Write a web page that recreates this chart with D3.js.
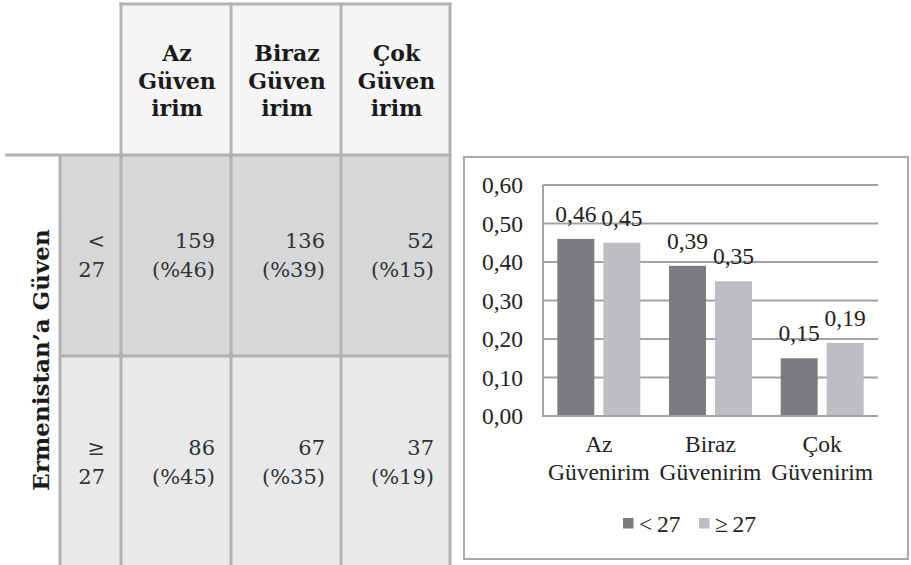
<!DOCTYPE html>
<html><head><meta charset="utf-8">
<script src="https://cdn.jsdelivr.net/npm/d3@7"></script>
<style>body{margin:0;background:#fff}svg{display:block}</style>
</head><body>
<svg id="c" width="911" height="565"></svg>
<script>
// ---- data ----
const categories = ["Az Güvenirim", "Biraz Güvenirim", "Çok Güvenirim"];
const headerLines = [["Az", "Güven", "irim"], ["Biraz", "Güven", "irim"], ["Çok", "Güven", "irim"]];
const groups = ["< 27", "≥ 27"];
const groupLines = [["<", "27"], ["≥", "27"]];
const rowTitle = "Ermenistan’a Güven";
const countsLt = [159, 136, 52];
const countsGe = [86, 67, 37];
const pctLt = [46, 39, 15];
const pctGe = [45, 35, 19];
const propLt = [0.46, 0.39, 0.15];
const propGe = [0.45, 0.35, 0.19];
const yTicks = [0, 0.1, 0.2, 0.3, 0.4, 0.5, 0.6];

const svg = d3.select("#c");
const fmt = v => d3.format(".2f")(v).replace(".", ",");

// ---- table ----
const tColX = [60, 121, 231, 341, 450];
const tTop = 4, tHead = 155, tMid = 356, tBot = 565;
const lineCol = "#b2b2b4";
const tbl = svg.append("g");
tbl.append("rect").attr("x", 121).attr("y", tTop).attr("width", 329).attr("height", tHead - tTop).attr("fill", "#f5f5f5");
tbl.append("rect").attr("x", 60).attr("y", tHead).attr("width", 390).attr("height", tMid - tHead).attr("fill", "#d6d7d9");
tbl.append("rect").attr("x", 60).attr("y", tMid).attr("width", 390).attr("height", tBot - tMid).attr("fill", "#e8e9eb");
const L = (x1, y1, x2, y2) => tbl.append("line").attr("x1", x1).attr("y1", y1).attr("x2", x2).attr("y2", y2)
  .attr("stroke", lineCol).attr("stroke-width", 3);
L(119.5, tTop, 451.5, tTop);
[121, 231, 341, 450].forEach(x => L(x, tTop - 1.5, x, tBot));
L(5, tHead, 451.5, tHead);
L(60, tHead, 60, tBot);
L(60, tMid, 451.5, tMid);

const headerFont = "'DejaVu Serif', serif";
headerLines.forEach((lines, i) => {
  const cx = (tColX[i + 1] + tColX[i + 2]) / 2;
  lines.forEach((t, j) => {
    tbl.append("text").attr("x", cx + 1).attr("y", 61 + j * 27.5).attr("text-anchor", "middle")
      .attr("font-family", headerFont).attr("font-weight", "bold").attr("font-size", 22)
      .attr("fill", "#1a1a1a").text(t);
  });
});
tbl.append("text").attr("transform", "translate(49,360) rotate(-90)").attr("text-anchor", "middle")
  .attr("font-family", headerFont).attr("font-weight", "bold").attr("font-size", 23)
  .attr("fill", "#1a1a1a").text(rowTitle);

const rowBase = [248, 455];
const rows = [[countsLt, pctLt], [countsGe, pctGe]];
groupLines.forEach((gl, r) => {
  gl.forEach((t, j) => {
    tbl.append("text").attr("x", 105).attr("y", rowBase[r] + j * 29).attr("text-anchor", "end")
      .attr("font-family", headerFont).attr("font-size", 21).attr("fill", "#333").text(t);
  });
  const [cnt, pct] = rows[r];
  cnt.forEach((v, i) => {
    const xr = tColX[i + 2] - 16;
    tbl.append("text").attr("x", xr).attr("y", rowBase[r]).attr("text-anchor", "end")
      .attr("font-family", headerFont).attr("font-size", 21).attr("fill", "#333").text(v);
    tbl.append("text").attr("x", xr).attr("y", rowBase[r] + 29).attr("text-anchor", "end")
      .attr("font-family", headerFont).attr("font-size", 21).attr("fill", "#333").text("(%" + pct[i] + ")");
  });
});

// ---- chart ----
const cf = "'Liberation Serif', 'Times New Roman', serif";
const fs = 23.5;
const ch = svg.append("g");
ch.append("rect").attr("x", 464).attr("y", 157).attr("width", 444).attr("height", 402)
  .attr("fill", "#fff").attr("stroke", "#a9a9a9").attr("stroke-width", 2);

const x0 = d3.scaleBand().domain(categories).range([543, 878]).paddingInner(0).paddingOuter(0);
const x1 = d3.scaleBand().domain(groups).range([0, x0.bandwidth()]).paddingInner(0.1957).paddingOuter(0.3116);
const y = d3.scaleLinear().domain([0, 0.6]).range([416, 185]);

ch.selectAll(".grid").data(yTicks).join("line")
  .attr("x1", 543).attr("x2", 878).attr("y1", d => y(d)).attr("y2", d => y(d))
  .attr("stroke", "#a3a3a3").attr("stroke-width", 2);
ch.append("line").attr("x1", 543).attr("x2", 543).attr("y1", y(0.6)).attr("y2", y(0) + 1)
  .attr("stroke", "#a3a3a3").attr("stroke-width", 2);

const yAxis = d3.axisLeft(y).tickValues(yTicks).tickSize(0).tickPadding(0).tickFormat(fmt);
const ya = ch.append("g").attr("transform", "translate(523,0)").call(yAxis);
ya.select(".domain").remove();
ya.selectAll("text").attr("font-family", cf).attr("font-size", fs).attr("fill", "#222").attr("dy", "0.32em");

const series = [propLt, propGe];
const colors = ["#7b7c80", "#bdbec2"];
series.forEach((vals, s) => {
  const g = ch.append("g");
  g.selectAll("rect").data(vals).join("rect")
    .attr("x", (d, i) => x0(categories[i]) + x1(groups[s]))
    .attr("y", d => y(d)).attr("width", x1.bandwidth()).attr("height", d => y(0) - y(d))
    .attr("fill", colors[s]);
  g.selectAll("text").data(vals).join("text")
    .attr("x", (d, i) => x0(categories[i]) + x1(groups[s]) + x1.bandwidth() / 2)
    .attr("y", d => y(d) - 17).attr("text-anchor", "middle")
    .attr("font-family", cf).attr("font-size", fs).attr("fill", "#222").text(fmt);
});
ch.append("line").attr("x1", 543).attr("x2", 878).attr("y1", y(0)).attr("y2", y(0))
  .attr("stroke", "#a3a3a3").attr("stroke-width", 2);

categories.forEach(c => {
  const cx = x0(c) + x0.bandwidth() / 2;
  c.split(" ").forEach((t, j) => {
    ch.append("text").attr("x", cx).attr("y", 452 + j * 27.5).attr("text-anchor", "middle")
      .attr("font-family", cf).attr("font-size", fs).attr("fill", "#222").text(t);
  });
});

// legend
const legX = [623, 699];
groups.forEach((gname, s) => {
  ch.append("rect").attr("x", legX[s]).attr("y", 518).attr("width", 10.5).attr("height", 10.5).attr("fill", colors[s]);
  ch.append("text").attr("x", legX[s] + 16).attr("y", 532).attr("font-family", cf).attr("font-size", fs)
    .attr("fill", "#222").text(gname.replace(" ", "\u2009"));
});
</script>
</body></html>
